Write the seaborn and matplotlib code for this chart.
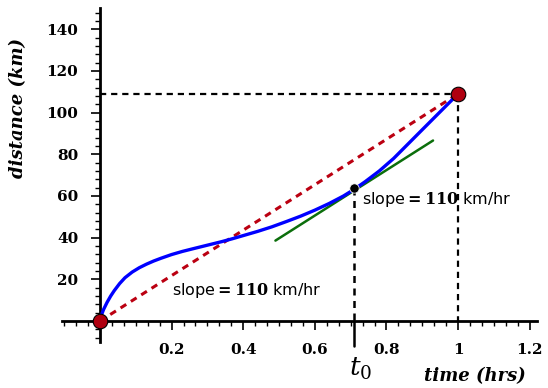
import numpy as np
import matplotlib
matplotlib.use('Agg')
import matplotlib.pyplot as plt
import seaborn as sns

# curve: time (hrs) vs distance (km)
time_hrs = [0, 0.005, 0.01, 0.02, 0.03, 0.04, 0.055, 0.07, 0.09, 0.11, 0.13, 0.15,
            0.17, 0.2, 0.23, 0.26, 0.3, 0.34, 0.37, 0.4, 0.44, 0.48, 0.52, 0.56,
            0.6, 0.64, 0.68, 0.71, 0.74, 0.78, 0.82, 0.86, 0.9, 0.95, 1.0]
distance_km = [0, 3.2, 5.5, 9, 12, 14.6, 18, 20.8, 23.5, 25.6, 27.3, 28.8,
               30.1, 31.9, 33.4, 34.7, 36.4, 38.1, 39.5, 41, 43, 45.2, 47.7, 50.3,
               53.2, 56.4, 60.0, 63.2, 66.8, 72.0, 78.0, 84.9, 91.8, 100.4, 109]

# secant and tangent
secant_t = [0, 1.0]
secant_d = [0, 109]
t0 = 0.71
d_t0 = 63.6
tangent_t = [0.49, 0.93]
tangent_d = [38.6, 86.6]

x_major = [0.2, 0.4, 0.6, 0.8, 1.0, 1.2]
x_labels = ['0.2', '0.4', '0.6', '0.8', '1', '1.2']
y_major = [20, 40, 60, 80, 100, 120, 140]

sns.set_style('white')
plt.rcParams['text.color'] = 'black'
plt.rcParams['xtick.color'] = 'black'
plt.rcParams['ytick.color'] = 'black'
plt.rcParams['mathtext.fontset'] = 'cm'

fig = plt.figure(figsize=(5.48, 3.88), dpi=100)
ax = fig.add_axes([0, 0, 1, 1])
ax.set_xlim(-0.279, 1.251)
ax.set_ylim(-32.1, 154)

# guide lines
dots = (0, (2.8, 2.2))
ax.plot([0, 1], [109, 109], color='black', lw=1.6, ls=dots, zorder=2)
ax.plot([1, 1], [109, 0], color='black', lw=1.6, ls=dots, zorder=2)
ax.plot([t0, t0], [d_t0, 0], color='black', lw=1.8, ls=dots, zorder=2)
ax.plot([t0, t0], [0, -12], color='black', lw=1.8, zorder=2)

sns.lineplot(x=secant_t, y=secant_d, ax=ax, color='#bb0011', lw=2.2, zorder=3)
ax.lines[-1].set_linestyle((0, (2.2, 1.8)))
sns.lineplot(x=tangent_t, y=tangent_d, ax=ax, color='#0b6e0b', lw=1.8, zorder=3)
sns.lineplot(x=time_hrs, y=distance_km, ax=ax, color='#0000ff', lw=2.4,
             errorbar=None, zorder=4)

sns.scatterplot(x=[0, 1], y=[0, 109], ax=ax, s=110, color='#b00010',
                edgecolor='black', linewidth=0.8, zorder=6)
sns.scatterplot(x=[t0], y=[d_t0], ax=ax, s=45, color='black', zorder=6)

# axes through the origin
for side in ['top', 'right']:
    ax.spines[side].set_visible(False)
ax.spines['left'].set_position(('data', 0))
ax.spines['bottom'].set_position(('data', 0))
ax.spines['left'].set_bounds(-10, 150)
ax.spines['bottom'].set_bounds(-0.106, 1.22)
for side in ['left', 'bottom']:
    ax.spines[side].set_linewidth(2.0)
    ax.spines[side].set_color('black')
    ax.spines[side].set_zorder(1)

ax.set_xticks(x_major, x_labels)
ax.set_yticks(y_major, [str(v) for v in y_major])
ax.set_xticks(np.arange(-3, 37) / 30, minor=True)
ax.set_yticks(np.arange(-2, 38) * 4, minor=True)
ax.tick_params(which='major', direction='out', length=6.5, width=1.2,
               labelsize=11, pad=9, bottom=True, left=True)
ax.tick_params(which='minor', direction='out', length=3.5, width=1.0,
               bottom=True, left=True)
for lab in ax.get_xticklabels() + ax.get_yticklabels():
    lab.set_fontfamily('DejaVu Serif')
    lab.set_fontweight('bold')

slope_txt = r'slope$\mathbf{=110}$ km/hr'
ax.text(0.201, 14.9, slope_txt, fontsize=11.5, ha='left', va='center',
        family='DejaVu Sans', math_fontfamily='dejavuserif')
ax.text(0.732, 58.5, slope_txt, fontsize=11.5, ha='left', va='center',
        family='DejaVu Sans', math_fontfamily='dejavuserif')
ax.text(0.727, -23, r'$t_0$', fontsize=19, ha='center', va='center',
        math_fontfamily='dejavuserif')
ax.text(1.047, -26.6, 'time (hrs)', fontsize=13, ha='center', va='center',
        family='DejaVu Serif', style='italic', weight='bold')
ax.text(-0.228, 102.2, 'distance (km)', fontsize=13, ha='center',
        va='center', rotation=90, family='DejaVu Serif', style='italic',
        weight='bold')

fig.savefig('out.png', dpi=100)
